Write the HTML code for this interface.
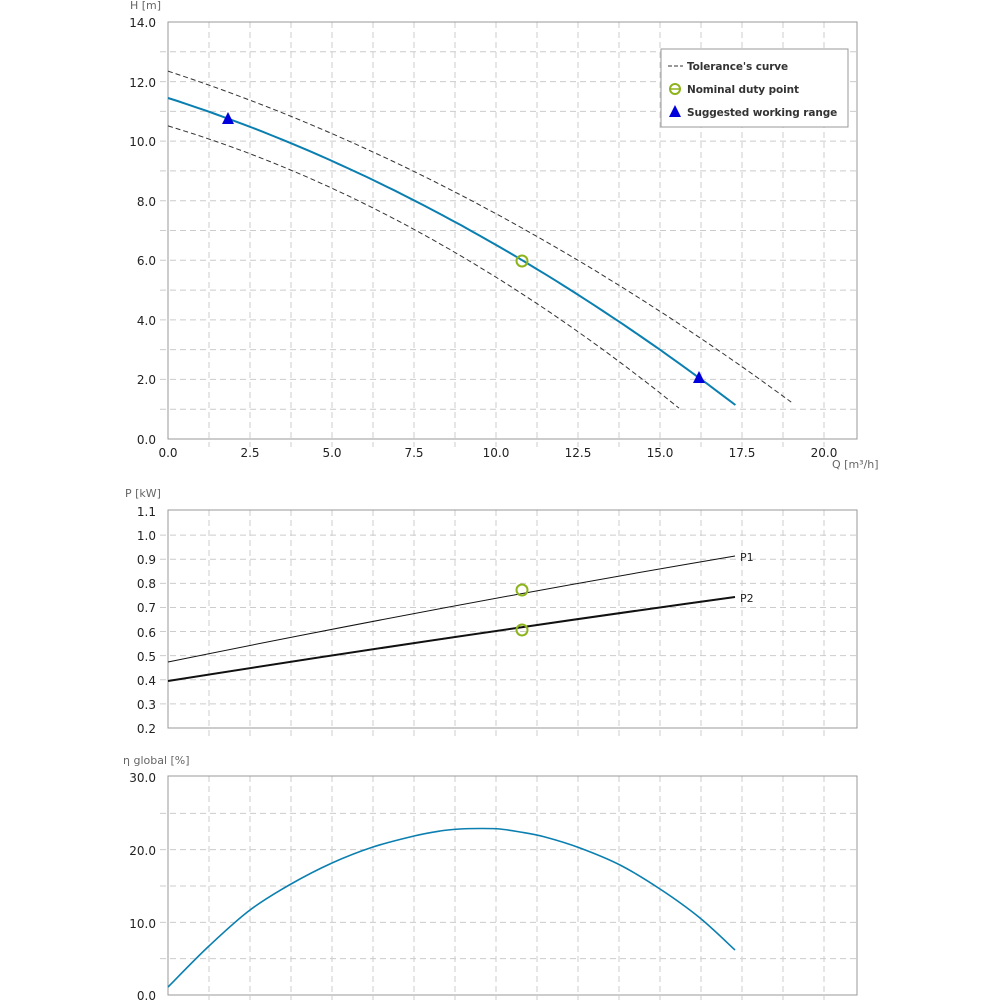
<!DOCTYPE html>
<html><head><meta charset="utf-8"><style>
html,body{margin:0;padding:0;background:#fff;}
svg{display:block;font-family:"DejaVu Sans","Liberation Sans",sans-serif;}
.t{font-size:12px;fill:#222;}
.al{font-size:11px;fill:#666;}
.lg{font-size:10.5px;font-weight:bold;fill:#333;letter-spacing:-0.1px;}
</style></head><body>
<svg id="s" width="1000" height="1000" viewBox="0 0 1000 1000" xmlns="http://www.w3.org/2000/svg">
<g id="grid"></g>
<rect x="168" y="22" width="689" height="417" fill="none" stroke="#999"/>
<rect x="168" y="510" width="689" height="218" fill="none" stroke="#999"/>
<rect x="168" y="776" width="689" height="219" fill="none" stroke="#999"/>
<g id="curves"></g>
<text class="al" x="130" y="9">H [m]</text>
<g class="t" text-anchor="end">
<text x="156" y="27">14.0</text><text x="156" y="87">12.0</text><text x="156" y="146">10.0</text>
<text x="156" y="206">8.0</text><text x="156" y="265">6.0</text><text x="156" y="325">4.0</text>
<text x="156" y="384">2.0</text><text x="156" y="444">0.0</text>
</g>
<g class="t" text-anchor="middle">
<text x="168" y="457">0.0</text><text x="250" y="457">2.5</text><text x="332" y="457">5.0</text>
<text x="414" y="457">7.5</text><text x="496" y="457">10.0</text><text x="578" y="457">12.5</text>
<text x="660" y="457">15.0</text><text x="742" y="457">17.5</text><text x="824" y="457">20.0</text>
</g>
<text class="al" x="832" y="468">Q [m³/h]</text>
<rect x="661" y="49" width="187" height="78" fill="#fff" stroke="#999"/>
<line x1="668" y1="66" x2="683" y2="66" stroke="#333" stroke-dasharray="4,2"/>
<text class="lg" x="687" y="70">Tolerance's curve</text>
<circle cx="675" cy="89" r="5" fill="none" stroke="#8db31a" stroke-width="2"/>
<line x1="670" y1="89" x2="680" y2="89" stroke="#8db31a" stroke-width="1.5"/>
<text class="lg" x="687" y="93">Nominal duty point</text>
<polygon points="675,105 669,117 681,117" fill="#0000dd"/>
<text class="lg" x="687" y="116">Suggested working range</text>
<text class="al" x="125" y="497">P [kW]</text>
<g class="t" text-anchor="end">
<text x="156" y="516">1.1</text><text x="156" y="540">1.0</text><text x="156" y="564">0.9</text>
<text x="156" y="588">0.8</text><text x="156" y="612">0.7</text><text x="156" y="637">0.6</text>
<text x="156" y="661">0.5</text><text x="156" y="685">0.4</text><text x="156" y="709">0.3</text>
<text x="156" y="733">0.2</text>
</g>
<text x="740" y="561" font-size="11" fill="#222">P1</text>
<text x="740" y="602" font-size="11" fill="#222">P2</text>
<text class="al" x="123" y="764">η global [%]</text>
<g class="t" text-anchor="end">
<text x="156" y="782">30.0</text><text x="156" y="855">20.0</text><text x="156" y="928">10.0</text><text x="156" y="1000">0.0</text>
</g>
</svg>
<script>
var NS="http://www.w3.org/2000/svg";
function el(p,tag,a){var e=document.createElementNS(NS,tag);for(var k in a)e.setAttribute(k,a[k]);p.appendChild(e);return e;}
var g=document.getElementById("grid"),c=document.getElementById("curves");
var ds={stroke:"#ccc","stroke-dasharray":"6,4","stroke-width":1};
function vgrid(y1,y2){for(var k=1;k<=16;k++){var x=168+41*k;el(g,"line",Object.assign({x1:x,x2:x,y1:y1,y2:y2},ds));}}
vgrid(22,447);vgrid(510,736);vgrid(776,1000);
for(var i=1;i<14;i++){var y=439-i*29.786;el(g,"line",Object.assign({x1:160,x2:857,y1:y,y2:y},ds));}
for(var i=1;i<9;i++){var y=728-i*24.11;el(g,"line",Object.assign({x1:160,x2:857,y1:y,y2:y},ds));}
for(var i=1;i<6;i++){var y=995-i*36.33;el(g,"line",Object.assign({x1:160,x2:857,y1:y,y2:y},ds));}
function X(q){return 168+32.8*q;}function Y(h){return 439-29.786*h;}
function curve(a,b,cc,qmax,attrs){var d="";for(var i=0;i<=60;i++){var q=qmax*i/60,h=a-b*q-cc*q*q;d+=(i?"L":"M")+X(q).toFixed(1)+","+Y(h).toFixed(1);}attrs.d=d;attrs.fill="none";el(c,"path",attrs);}
curve(12.35,0.3606,0.0118,19.0,{stroke:"#333","stroke-width":1,"stroke-dasharray":"5,3"});
curve(10.51,0.3286,0.01793,15.58,{stroke:"#333","stroke-width":1,"stroke-dasharray":"5,3"});
curve(11.45,0.3529,0.01405,17.3,{stroke:"#0a7fb0","stroke-width":2});
el(c,"circle",{cx:522,cy:261,r:5.5,fill:"none",stroke:"#8db31a","stroke-width":2});
el(c,"polygon",{points:"228,112 222,124 234,124",fill:"#0000dd"});
el(c,"polygon",{points:"699,371 693,383 705,383",fill:"#0000dd"});
el(c,"path",{d:"M168,662 Q452,604 735,556",fill:"none",stroke:"#111","stroke-width":1});
el(c,"path",{d:"M168,681 Q452,636 735,597",fill:"none",stroke:"#111","stroke-width":2});
el(c,"circle",{cx:522,cy:590,r:5.5,fill:"none",stroke:"#8db31a","stroke-width":2});
el(c,"circle",{cx:522,cy:630,r:5.5,fill:"none",stroke:"#8db31a","stroke-width":2});
var p=[[168,987],[209,946],[250,910],[291,884],[332,863],[373,847],[414,836],[440,831],[460,829],[480,828.5],[500,829],[520,832],[545,837],[580,848],[620,865],[660,889],[700,918],[735,950]];
var d="M"+p[0].join(",");
for(var i=0;i<p.length-1;i++){var p0=p[Math.max(0,i-1)],p1=p[i],p2=p[i+1],p3=p[Math.min(p.length-1,i+2)];
var c1x=p1[0]+(p2[0]-p0[0])/6,c1y=p1[1]+(p2[1]-p0[1])/6,c2x=p2[0]-(p3[0]-p1[0])/6,c2y=p2[1]-(p3[1]-p1[1])/6;
d+="C"+c1x.toFixed(1)+","+c1y.toFixed(1)+" "+c2x.toFixed(1)+","+c2y.toFixed(1)+" "+p2[0]+","+p2[1];}
el(c,"path",{d:d,fill:"none",stroke:"#0a7fb0","stroke-width":1.6});
</script>
</body></html>
